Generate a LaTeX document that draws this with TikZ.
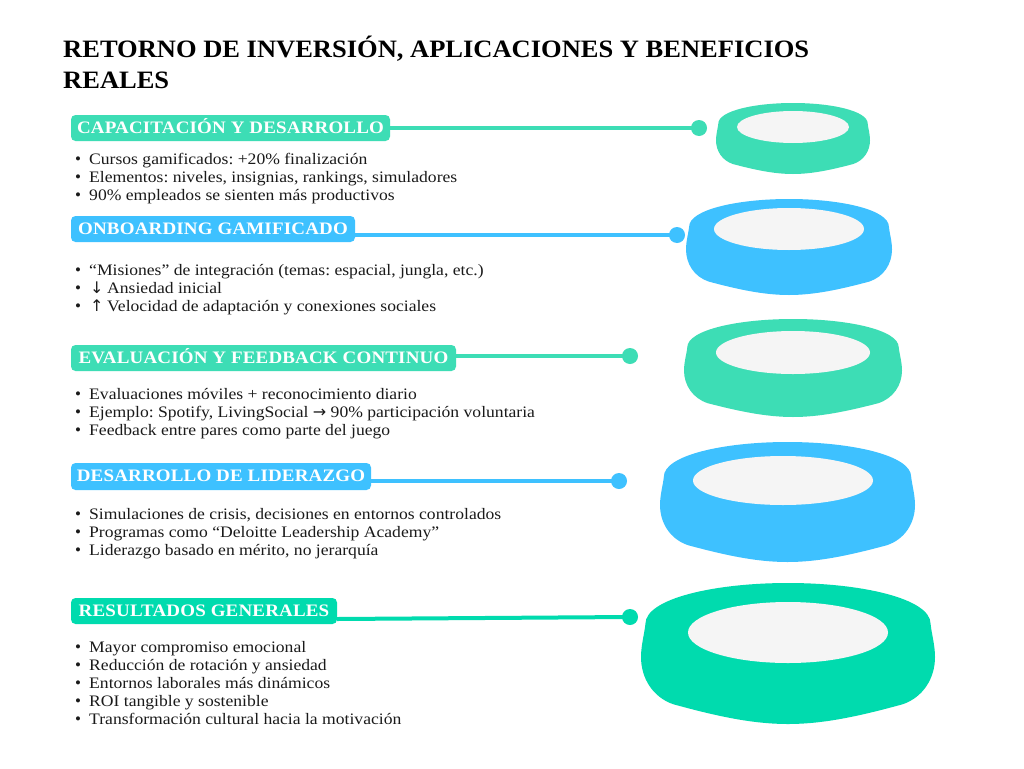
\documentclass[tikz,border=0pt]{standalone}
\usepackage{fontspec}
\setmainfont{Liberation Serif}
\newfontfamily\bodyf[FakeStretch=1.1]{Liberation Serif}
\newfontfamily\arrowf{DejaVu Sans}
\newfontfamily\headf[FakeStretch=1.085,LetterSpace=1]{Liberation Serif}
\newfontfamily\titlef[FakeStretch=1.06]{Liberation Serif}
\definecolor{teal1}{HTML}{3DDDB5}
\definecolor{blue1}{HTML}{3EC1FF}
\definecolor{teal2}{HTML}{00DBAE}
\definecolor{holec}{HTML}{F5F5F5}
\definecolor{inkc}{HTML}{1A1A1A}
\tikzset{
  titletext/.style={anchor=base west,inner sep=0pt,text=black,font=\titlef\bfseries\fontsize{25}{30}\selectfont},
  headtag/.style={fill=#1,rounded corners=4.5pt,inner sep=0pt,anchor=center,text=white,text height=10pt,text depth=0pt,font=\headf\bfseries\fontsize{17.5}{20}\selectfont},
  itemtext/.style={anchor=base west,inner sep=0pt,text=inkc,font=\frenchspacing\bodyf\fontsize{16}{18}\selectfont},
  bullettext/.style={anchor=base,inner sep=0pt,text=inkc,font=\fontsize{17}{17}\selectfont},
  linkline/.style={draw=#1,line width=4pt},
  enddot/.style={circle,fill=#1,inner sep=0pt,minimum size=16pt},
}
\newcommand{\headtag}[7]{%
  \node[headtag=#2,minimum width={(#4-#3)*1pt},minimum height={(#6-#5)*1pt}] (#1) at ({(#3+#4)/2},{(#5+#6)/2}) {#7};}
\newcommand{\bul}[3]{%
  \node[bullettext] (#1b) at (78,#2) {•};
  \node[itemtext] (#1) at (89,#2) {#3};}
\newcommand{\arr}[1]{\makebox[18pt][l]{\hspace{1pt}{\arrowf\fontsize{16}{18}\selectfont #1}}}
\newcommand{\blob}[5]{%
  \begin{scope}[shift={({(#2+#3)/2},{(#4+#5)/2})},xscale={(#3-#2)/2},yscale={(#5-#4)/2}]
  \fill[#1] (0,-1) .. controls (-0.5,-1) and (-0.97,-0.78) .. (-0.97,-0.42)
    .. controls (-0.975,-0.3) and (-1,-0.12) .. (-1,0.05)
    .. controls (-1,0.35) and (-0.92,0.62) .. (-0.78,0.72)
    .. controls (-0.5,0.88) and (-0.25,1) .. (0,1)
    .. controls (0.25,1) and (0.5,0.88) .. (0.78,0.72)
    .. controls (0.92,0.62) and (1,0.35) .. (1,0.05)
    .. controls (1,-0.12) and (0.975,-0.3) .. (0.97,-0.42)
    .. controls (0.97,-0.78) and (0.5,-1) .. (0,-1) -- cycle;
  \end{scope}}
\newcommand{\hole}[4]{%
  \fill[holec] ({(#1+#2)/2},{(#3+#4)/2}) ellipse ({(#2-#1)/2} and {(#4-#3)/2});}
\begin{document}
\begin{tikzpicture}[x=1pt,y=-1pt]
\useasboundingbox (0,0) rectangle (1024,768);
\fill[white] (0,0) rectangle (1024,768);
\node[titletext] (t1) at (63,58) {RETORNO DE INVERSIÓN, APLICACIONES Y BENEFICIOS};
\node[titletext] (t2) at (63,88) {REALES};
\blob{teal1}{716}{870}{103}{174}\hole{737}{849}{111}{143}
\blob{blue1}{686}{892}{199}{295}\hole{714}{864}{208}{250}
\blob{teal1}{684}{902}{319}{417}\hole{716}{870}{331}{374}
\blob{blue1}{660}{915}{442}{562}\hole{693}{873}{456}{505}
\blob{teal2}{641}{935}{583}{724}\hole{688}{888}{602}{663}
\headtag{h1}{teal1}{71}{390}{115}{141}{CAPACITACIÓN Y DESARROLLO}
\headtag{h2}{blue1}{71}{355}{216}{242}{ONBOARDING GAMIFICADO}
\headtag{h3}{teal1}{71}{456}{345}{371}{EVALUACIÓN Y FEEDBACK CONTINUO}
\headtag{h4}{blue1}{71}{371}{463}{490}{DESARROLLO DE LIDERAZGO}
\headtag{h5}{teal2}{71}{337}{598}{624}{RESULTADOS GENERALES}
\node[enddot=teal1] (d1) at (699,128) {};
\node[enddot=blue1] (d2) at (677,235) {};
\node[enddot=teal1] (d3) at (630,356) {};
\node[enddot=blue1] (d4) at (619,481) {};
\node[enddot=teal2] (d5) at (630,617) {};
\draw[linkline=teal1] (h1.east) -- (d1.center);
\draw[linkline=blue1] (h2.east |- d2) -- (d2.center);
\draw[linkline=teal1] (h3.east |- d3) -- (d3.center);
\draw[linkline=blue1] (h4.east |- d4) -- (d4.center);
\draw[linkline=teal2] ([yshift=-8pt]h5.east) -- (d5.center);
\bul{a1}{164}{Cursos gamificados: +20\% finalización}
\bul{a2}{182}{Elementos: niveles, insignias, rankings, simuladores}
\bul{a3}{200}{90\% empleados se sienten más productivos}
\bul{b1}{275}{“Misiones” de integración (temas: espacial, jungla, etc.)}
\bul{b2}{293}{\arr{↓}Ansiedad inicial}
\bul{b3}{311}{\arr{↑}Velocidad de adaptación y conexiones sociales}
\bul{c1}{399}{Evaluaciones móviles + reconocimiento diario}
\bul{c2}{417}{Ejemplo: Spotify, LivingSocial {\arrowf\fontsize{16}{18}\selectfont →} 90\% participación voluntaria}
\bul{c3}{435}{Feedback entre pares como parte del juego}
\bul{e1}{519}{Simulaciones de crisis, decisiones en entornos controlados}
\bul{e2}{537}{Programas como “Deloitte Leadership Academy”}
\bul{e3}{555}{Liderazgo basado en mérito, no jerarquía}
\bul{f1}{652}{Mayor compromiso emocional}
\bul{f2}{670}{Reducción de rotación y ansiedad}
\bul{f3}{688}{Entornos laborales más dinámicos}
\bul{f4}{706}{ROI tangible y sostenible}
\bul{f5}{724}{Transformación cultural hacia la motivación}
\end{tikzpicture}
\end{document}
